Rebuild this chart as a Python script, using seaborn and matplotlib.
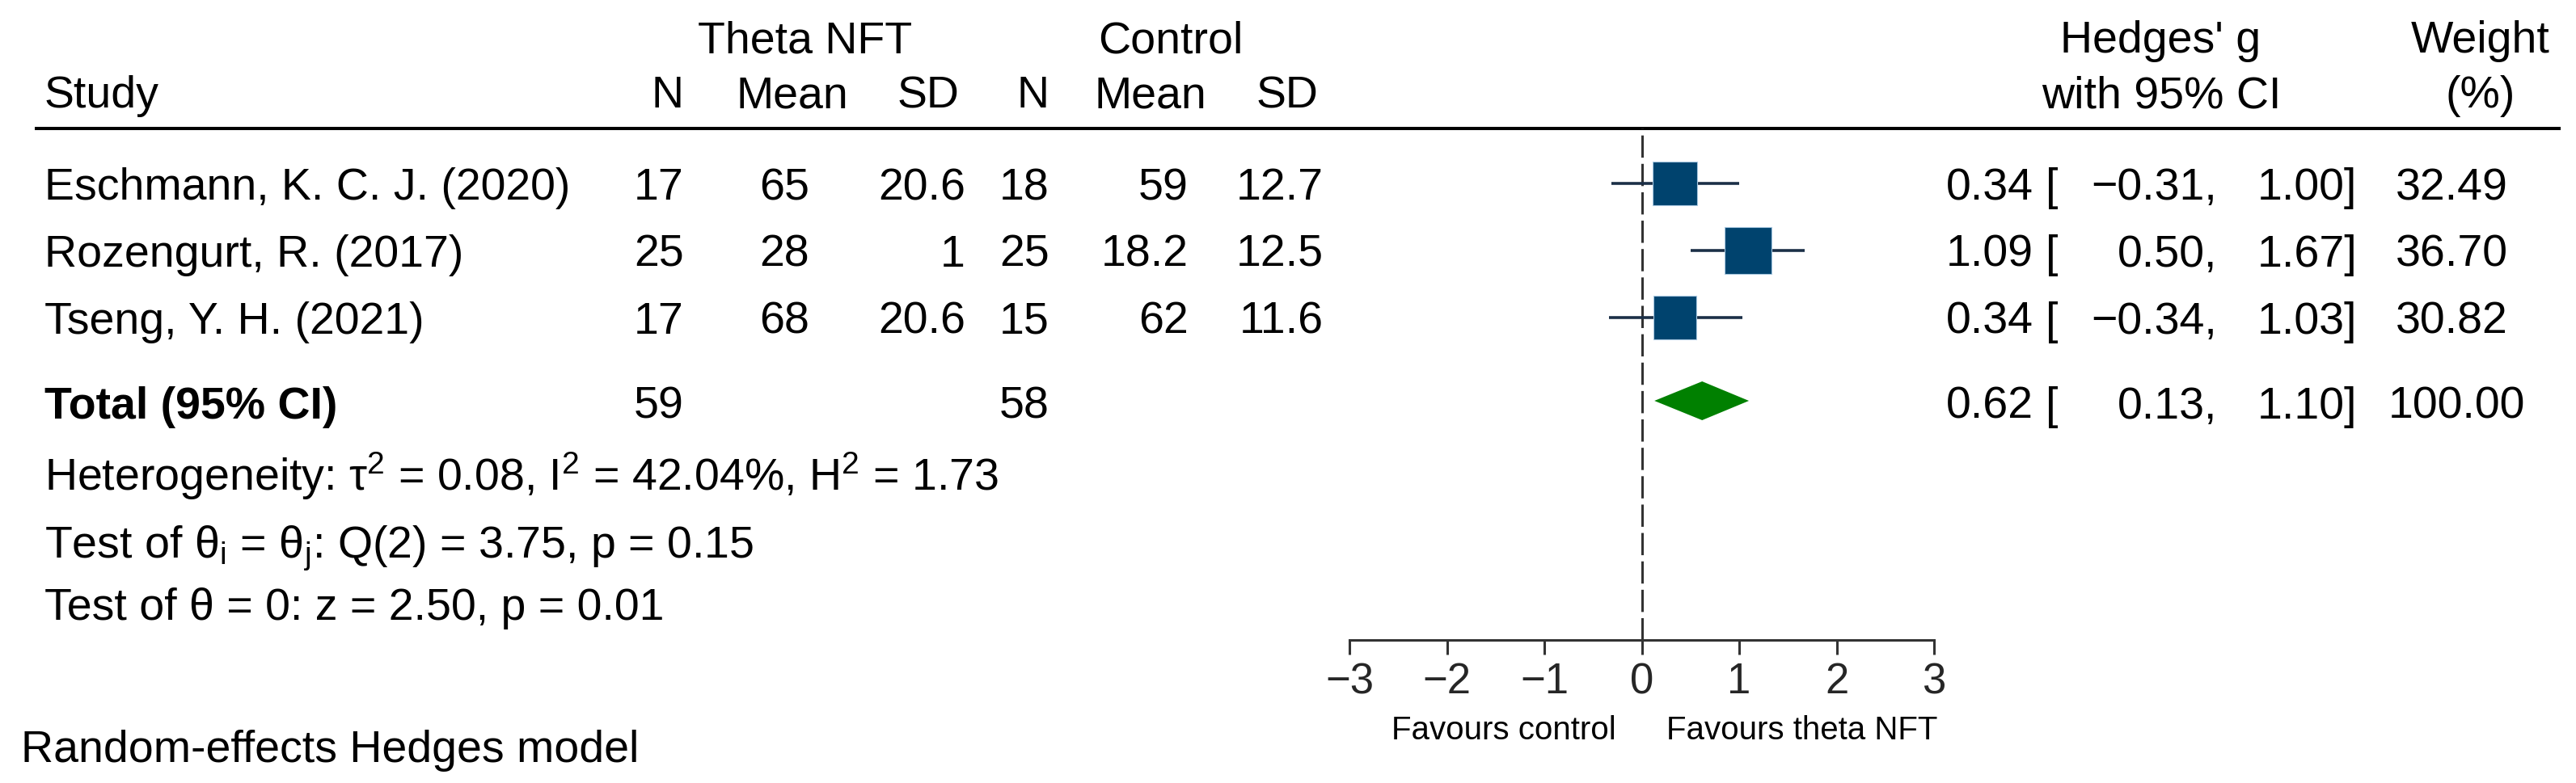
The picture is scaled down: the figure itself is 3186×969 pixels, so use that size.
import matplotlib
matplotlib.use("Agg")
import matplotlib.pyplot as plt
import seaborn as sns
import pandas as pd

# Study data
studies = ["Eschmann, K. C. J. (2020)", "Rozengurt, R. (2017)", "Tseng, Y. H. (2021)"]
nft_n = [17, 25, 17]
nft_mean = [65, 28, 68]
nft_sd = [20.6, 1, 20.6]
ctrl_n = [18, 25, 15]
ctrl_mean = [59, 18.2, 62]
ctrl_sd = [12.7, 12.5, 11.6]
hedges_g = [0.34, 1.09, 0.34]
ci_low = [-0.31, 0.50, -0.34]
ci_high = [1.00, 1.67, 1.03]
weights = [32.49, 36.70, 30.82]

# Pooled estimate
total_label = "Total (95% CI)"
total_nft_n = 59
total_ctrl_n = 58
total_g = 0.62
total_low = 0.13
total_high = 1.10
total_weight = 100.00

stats_lines = [
    "Heterogeneity: \u03c4$^2$ = 0.08, I$^2$ = 42.04%, H$^2$ = 1.73",
    "Test of \u03b8$_i$ = \u03b8$_j$: Q(2) = 3.75, p = 0.15",
    "Test of \u03b8 = 0: z = 2.50, p = 0.01",
]
model_note = "Random-effects Hedges model"
x_ticks = [-3, -2, -1, 0, 1, 2, 3]

sns.set_theme(style="white")
plt.rcParams["font.family"] = ["Liberation Sans", "DejaVu Sans"]
plt.rcParams["mathtext.default"] = "regular"

W, H = 3186, 970
fig = plt.figure(figsize=(W / 100, H / 100), dpi=100)

# background axes in pixel units for the table text
bg = fig.add_axes([0, 0, 1, 1])
bg.set_xlim(0, W)
bg.set_ylim(H, 0)
bg.axis("off")

FS = 40
row_base = [247, 330, 413]
total_base = 518


def fmt(v):
    return f"{v:g}"


def num(v):
    return f"{v:.2f}".replace("-", "\u2212")


def txt(x, y, s, ha="left", **kw):
    bg.text(x, y, s, ha=ha, va="baseline", fontsize=kw.pop("fontsize", FS),
            color="black", **kw)


# headers
txt(996, 65, "Theta NFT", ha="center")
txt(1448, 65, "Control", ha="center")
txt(2672, 65, "Hedges' g", ha="center")
txt(3068, 65, "Weight", ha="center")
txt(55, 133, "Study")
txt(846, 133, "N", ha="right")
txt(980, 133, "Mean", ha="center")
txt(1148, 133, "SD", ha="center")
txt(1298, 133, "N", ha="right")
txt(1423, 133, "Mean", ha="center")
txt(1592, 133, "SD", ha="center")
txt(2673, 133, "with 95% CI", ha="center")
txt(3068, 133, "(%)", ha="center")
bg.plot([43, 3167], [160, 160], color="black", lw=2.9, solid_capstyle="butt")

# study rows
for i, yb in enumerate(row_base):
    txt(55, yb, studies[i])
    txt(846, yb, fmt(nft_n[i]), ha="right")
    txt(1001, yb, fmt(nft_mean[i]), ha="right")
    txt(1194, yb, fmt(nft_sd[i]), ha="right")
    txt(1298, yb, fmt(ctrl_n[i]), ha="right")
    txt(1470, yb, fmt(ctrl_mean[i]), ha="right")
    txt(1637, yb, fmt(ctrl_sd[i]), ha="right")
    txt(2515, yb, num(hedges_g[i]), ha="right")
    txt(2530, yb, "[")
    txt(2742, yb, num(ci_low[i]) + ",", ha="right")
    txt(2915, yb, num(ci_high[i]) + "]", ha="right")
    txt(3102, yb, num(weights[i]), ha="right")

# total row
txt(55, total_base, total_label, fontweight="bold")
txt(846, total_base, fmt(total_nft_n), ha="right")
txt(1298, total_base, fmt(total_ctrl_n), ha="right")
txt(2515, total_base, num(total_g), ha="right")
txt(2530, total_base, "[")
txt(2742, total_base, num(total_low) + ",", ha="right")
txt(2915, total_base, num(total_high) + "]", ha="right")
txt(3123, total_base, num(total_weight), ha="right")

for yb, s in zip([607, 690, 767], stats_lines):
    txt(55, yb, s)
txt(26, 943, model_note)

txt(1999, 915, "Favours control", ha="right", fontsize=29)
txt(2061, 915, "Favours theta NFT", fontsize=29)

# forest axes: x in Hedges' g, y in pixel rows
x0, x1 = 1669, 2392
y_top, y_axis = 160, 793
ax = fig.add_axes([x0 / W, (H - y_axis) / H, (x1 - x0) / W, (y_axis - y_top) / H])
ax.set_facecolor("none")
ax.set_xlim(-3, 3)
ax.set_ylim(y_axis, y_top)

row_mid = [b - 19 for b in row_base]
df = pd.DataFrame({"g": hedges_g, "y": row_mid, "w": weights})

ax.axvline(0, color="#333333", lw=2.2, ls=(0, (9, 2.5)), zorder=1)
ax.hlines(row_mid, ci_low, ci_high, color="#1b2f47", lw=2.6, zorder=2)
sns.scatterplot(data=df, x="g", y="y", size="w", sizes=(0, 1750),
                size_norm=(0, max(weights)), marker="s", color="#00436e",
                edgecolor="#a9c8e0", linewidth=0.8, legend=False, ax=ax, zorder=3)
ty = total_base - 21
ax.fill([total_low, total_g, total_high, total_g], [ty, ty - 24, ty, ty + 24],
        color="#008000", lw=0, zorder=3)

for side in ["top", "right", "left"]:
    ax.spines[side].set_visible(False)
ax.spines["bottom"].set_color("#333333")
ax.spines["bottom"].set_linewidth(2.2)
ax.set_xticks(x_ticks)
ax.set_yticks([])
ax.tick_params(axis="x", direction="out", length=13, width=2.2, color="#333333",
               labelsize=38, pad=6, bottom=True)
ax.set_xlabel("")
ax.set_ylabel("")

fig.savefig("out.png", dpi=100)
